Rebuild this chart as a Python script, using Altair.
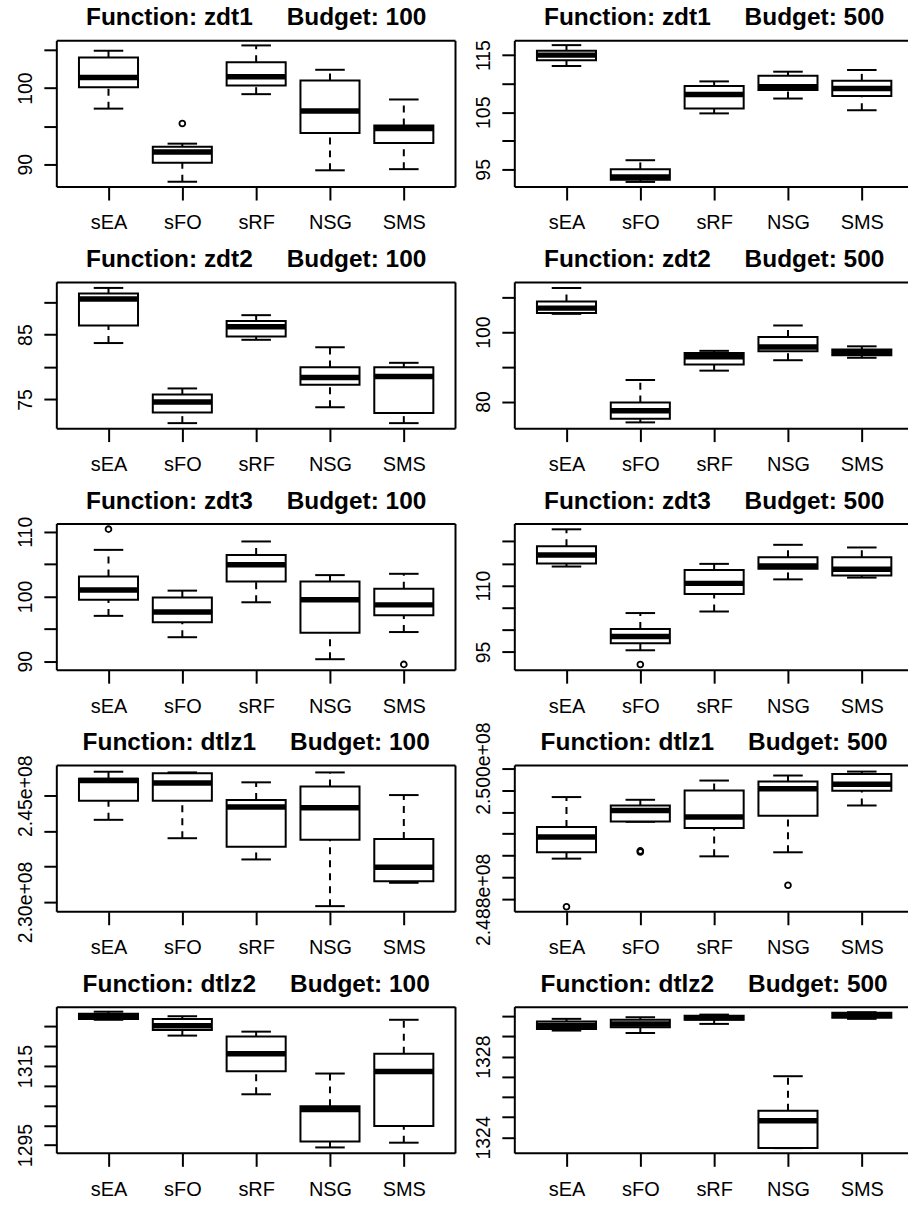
import json
import altair as alt
import pandas as pd

ALGS = ["sEA", "sFO", "sRF", "NSG", "SMS"]

# Box statistics per panel, one value per algorithm, rows: lower whisker, Q1, median, Q3, upper whisker
ZDT1_100 = [
    [97.3, 87.7, 99.2, 89.2, 89.35],
    [100.1, 90.2, 100.35, 94.1, 92.8],
    [101.4, 91.6, 101.5, 97.0, 94.7],
    [104.0, 92.3, 103.4, 101.0, 95.1],
    [104.9, 92.7, 105.6, 102.4, 98.5],
]
ZDT1_100_OUT = [("sFO", 95.35)]

ZDT1_500 = [
    [113.1, 92.8, 104.8, 107.4, 105.35],
    [114.1, 93.2, 105.65, 108.9, 107.85],
    [115.0, 93.65, 108.1, 109.45, 109.15],
    [115.75, 95.0, 109.6, 111.4, 110.5],
    [116.75, 96.6, 110.4, 112.1, 112.4],
]
ZDT1_500_OUT = []

ZDT2_100 = [
    [83.7, 71.35, 84.2, 73.8, 71.35],
    [86.4, 73.0, 84.7, 77.25, 72.9],
    [90.5, 74.6, 86.2, 78.4, 78.55],
    [91.35, 75.75, 87.1, 79.95, 79.95],
    [92.2, 76.7, 88.0, 83.05, 80.65],
]
ZDT2_100_OUT = []

ZDT2_500 = [
    [105.25, 74.0, 88.9, 91.9, 92.6],
    [105.5, 75.05, 90.7, 94.5, 93.35],
    [106.9, 77.35, 92.9, 95.7, 94.1],
    [108.8, 79.7, 94.0, 98.6, 95.0],
    [112.7, 86.2, 94.6, 101.9, 95.9],
]
ZDT2_500_OUT = []

ZDT3_100 = [
    [97.0, 93.7, 99.1, 90.3, 94.5],
    [99.5, 96.0, 102.3, 94.4, 97.1],
    [101.0, 97.6, 104.9, 99.5, 98.7],
    [103.1, 99.85, 106.4, 102.3, 101.2],
    [107.2, 100.9, 108.5, 103.3, 103.5],
]
ZDT3_100_OUT = [("sEA", 110.4), ("SMS", 89.5)]

ZDT3_500 = [
    [114.3, 95.4, 104.15, 111.4, 111.8],
    [115.0, 97.0, 108.1, 113.8, 112.25],
    [116.9, 98.5, 110.5, 114.4, 113.7],
    [118.9, 100.2, 113.5, 116.4, 116.4],
    [122.7, 103.8, 114.9, 119.2, 118.6],
]
ZDT3_500_OUT = [("sFO", 92.2)]

DTLZ1_100 = [
    [241.6e6, 239.0e6, 236.0e6, 229.4e6, 232.7e6],
    [244.3e6, 244.3e6, 237.8e6, 238.8e6, 232.9e6],
    [247.15e6, 246.8e6, 243.4e6, 243.3e6, 234.9e6],
    [247.4e6, 248.2e6, 244.4e6, 246.3e6, 238.9e6],
    [248.4e6, 248.3e6, 246.9e6, 248.3e6, 245.1e6],
]
DTLZ1_100_OUT = []

DTLZ1_500 = [
    [249.173e6, 249.51e6, 249.194e6, 249.231e6, 249.659e6],
    [249.231e6, 249.513e6, 249.453e6, 249.565e6, 249.793e6],
    [249.371e6, 249.613e6, 249.553e6, 249.811e6, 249.854e6],
    [249.462e6, 249.659e6, 249.796e6, 249.878e6, 249.948e6],
    [249.736e6, 249.711e6, 249.887e6, 249.933e6, 249.969e6],
]
DTLZ1_500_OUT = [("sEA", 248.733e6), ("sFO", 249.244e6), ("sFO", 249.234e6), ("NSG", 248.93e6)]

DTLZ2_100 = [
    [1326.7, 1322.7, 1307.85, 1294.4, 1295.6],
    [1326.9, 1324.1, 1313.7, 1295.9, 1299.8],
    [1327.6, 1325.2, 1318.1, 1304.0, 1313.6],
    [1328.2, 1326.9, 1322.5, 1304.8, 1318.1],
    [1328.75, 1327.6, 1323.7, 1313.1, 1326.7],
]
DTLZ2_100_OUT = []

DTLZ2_500 = [
    [1329.29, 1329.17, 1329.62, 1323.47, 1329.87],
    [1329.37, 1329.46, 1329.83, 1323.47, 1329.92],
    [1329.54, 1329.62, 1329.92, 1324.83, 1330.07],
    [1329.74, 1329.82, 1330.03, 1325.32, 1330.17],
    [1329.87, 1329.95, 1330.08, 1327.03, 1330.2],
]
DTLZ2_500_OUT = []

# y-axis domains, tick values and labelled ticks
Y_DOMAINS = [
    [87.0, 106.2], [91.9, 117.5],
    [70.5, 93.05], [72.2, 114.3],
    [88.6, 111.2], [90.9, 123.9],
    [228.6e6, 249.27e6], [248.687e6, 250.024e6],
    [1292.9, 1329.9], [1323.21, 1330.45],
]
Y_TICKS = [
    [90, 95, 100, 105], [95, 100, 105, 110, 115],
    [75, 80, 85, 90], [80, 90, 100, 110],
    [90, 95, 100, 105, 110], [95, 100, 105, 110, 115, 120],
    [230e6, 235e6, 240e6, 245e6], [248.8e6, 249.0e6, 249.2e6, 249.4e6, 249.6e6, 249.8e6, 250.0e6],
    [1295, 1300, 1305, 1310, 1315, 1320, 1325], [1324, 1325, 1326, 1327, 1328, 1329, 1330],
]
Y_LABELLED = [
    [90, 100], [95, 105, 115],
    [75, 85], [80, 100],
    [90, 100, 110], [95, 110],
    [230e6, 245e6], [248.8e6, 250.0e6],
    [1295, 1315], [1324, 1328],
]
Y_FORMATS = ["d", "d", "d", "d", "d", "d", ".2e", ".3e", "d", "d"]

FUNCTIONS = ["zdt1", "zdt1", "zdt2", "zdt2", "zdt3", "zdt3", "dtlz1", "dtlz1", "dtlz2", "dtlz2"]
BUDGETS = [100, 500] * 5
STATS = [ZDT1_100, ZDT1_500, ZDT2_100, ZDT2_500, ZDT3_100, ZDT3_500,
         DTLZ1_100, DTLZ1_500, DTLZ2_100, DTLZ2_500]
OUTLIERS = [ZDT1_100_OUT, ZDT1_500_OUT, ZDT2_100_OUT, ZDT2_500_OUT, ZDT3_100_OUT,
            ZDT3_500_OUT, DTLZ1_100_OUT, DTLZ1_500_OUT, DTLZ2_100_OUT, DTLZ2_500_OUT]

FONT = "Liberation Sans"
W_LEFT = 400.0
W_RIGHT = 394.5
H = 146.7
PX_PER_UNIT = W_LEFT / 5.4
NBSP = "\u00a0"

x_label_expr = f"{json.dumps(ALGS)}[datum.value - 1]"


def panel(k):
    right = (k % 2 == 1)
    width = W_RIGHT if right else W_LEFT
    lo, q1, med, q3, hi = STATS[k]
    df = pd.DataFrame({"alg": ALGS, "i": list(range(1, 6)),
                       "lo": lo, "q1": q1, "med": med, "q3": q3, "hi": hi})
    outs = OUTLIERS[k]

    xmax = 0.3 + width / PX_PER_UNIT
    xs = alt.Scale(domain=[0.3, xmax], nice=False, zero=False)
    ys = alt.Scale(domain=Y_DOMAINS[k], nice=False, zero=False)

    fmt = Y_FORMATS[k]
    if fmt == "d":
        fexpr = "format(datum.value, 'd')"
    else:
        fexpr = f"replace(format(datum.value, '{fmt}'), 'e+', 'e+0')"
    y_label_expr = f"indexof({json.dumps(Y_LABELLED[k])}, datum.value) >= 0 ? {fexpr} : ''"

    xaxis = alt.Axis(values=[1, 2, 3, 4, 5], labelExpr=x_label_expr, title=None, grid=False,
                     domain=False, ticks=True, tickSize=13, tickWidth=2, tickColor="black",
                     labelFont=FONT, labelFontSize=20, labelColor="black",
                     labelPadding=13, labelFlush=False, labelOverlap=False)
    yaxis = alt.Axis(values=Y_TICKS[k], labelExpr=y_label_expr, title=None, grid=False,
                     domain=False, ticks=True, tickSize=13, tickWidth=2, tickColor="black",
                     labelFont=FONT, labelFontSize=19.5, labelColor="black",
                     labelAngle=270, labelAlign="center", labelBaseline="alphabetic",
                     labelPadding=12.5, labelFlush=False, labelOverlap=False,
                     tickCount=len(Y_TICKS[k]))

    base = alt.Chart(df).transform_calculate(
        xl="datum.i - 0.4", xr="datum.i + 0.4", cl="datum.i - 0.2", cr="datum.i + 0.2"
    )
    X = lambda f, **kw: alt.X(f, scale=xs, **kw)
    Y = lambda f, **kw: alt.Y(f, scale=ys, **kw)

    wh_up = base.mark_rule(color="black", strokeWidth=2, strokeDash=[7, 6]).encode(
        x=X("i:Q", axis=xaxis), y=Y("q3:Q", axis=yaxis), y2="hi:Q")
    wh_lo = base.mark_rule(color="black", strokeWidth=2, strokeDash=[7, 6]).encode(
        x=X("i:Q"), y=Y("lo:Q"), y2="q1:Q")
    cap_up = base.mark_rule(color="black", strokeWidth=2).encode(
        x=X("cl:Q"), x2="cr:Q", y=Y("hi:Q"))
    cap_lo = base.mark_rule(color="black", strokeWidth=2).encode(
        x=X("cl:Q"), x2="cr:Q", y=Y("lo:Q"))
    box = base.mark_rect(fill="white", stroke="black", strokeWidth=2).encode(
        x=X("xl:Q"), x2="xr:Q", y=Y("q1:Q"), y2="q3:Q")
    median = base.mark_rule(color="black", strokeWidth=5.5, strokeCap="butt").encode(
        x=X("xl:Q"), x2="xr:Q", y=Y("med:Q"))
    layers = [wh_up, wh_lo, cap_up, cap_lo, box, median]
    if len(outs):
        odf = pd.DataFrame({"alg": [o[0] for o in outs], "v": [o[1] for o in outs]})
        odf["i"] = [ALGS.index(a) + 1 for a in odf["alg"]]
        pts = alt.Chart(odf).mark_point(shape="circle", filled=False, color="black",
                                        strokeWidth=1.8, size=34, opacity=1).encode(
            x=X("i:Q"), y=Y("v:Q"))
        layers.append(pts)

    one = pd.DataFrame({"t": [f"Function: {FUNCTIONS[k]}{NBSP * 5}Budget: {BUDGETS[k]}"]})
    frame_l = alt.Chart(one).mark_rule(color="black", strokeWidth=2).encode(
        x=alt.value(0), y=alt.value(0), y2=alt.value(H))
    frame_t = alt.Chart(one).mark_rule(color="black", strokeWidth=2).encode(
        x=alt.value(0), x2=alt.value(width), y=alt.value(0))
    frame_b = alt.Chart(one).mark_rule(color="black", strokeWidth=2).encode(
        x=alt.value(0), x2=alt.value(width), y=alt.value(H))
    layers += [frame_l, frame_t, frame_b]
    if not right:
        frame_r = alt.Chart(one).mark_rule(color="black", strokeWidth=2).encode(
            x=alt.value(width), y=alt.value(0), y2=alt.value(H))
        layers.append(frame_r)

    title = alt.Chart(one).mark_text(font=FONT, fontSize=24.5, fontWeight="bold", color="black",
                                     align="center", baseline="alphabetic").encode(
        text="t:N", x=alt.value(W_LEFT / 2), y=alt.value(-15.5))
    layers.append(title)

    return alt.layer(*layers).properties(width=width, height=H)


charts = [panel(k) for k in range(10)]
chart = alt.concat(*charts, columns=2, spacing={"row": 242.07 - H, "column": 515.5 - 56 - W_LEFT},
                   bounds="flush").properties(
    padding={"left": 14, "top": 3, "right": 0, "bottom": 0},
    background="white",
).configure_view(stroke="transparent")

chart.save("out.html", embed_options={"renderer": "svg", "actions": False})
